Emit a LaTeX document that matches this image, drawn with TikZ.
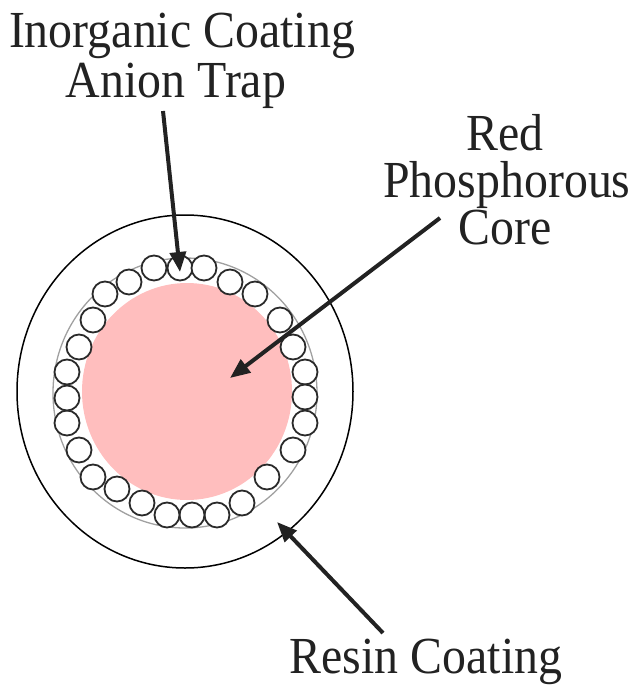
\documentclass[tikz,border=0pt]{standalone}
\usepackage{fontspec}
\setmainfont{Liberation Serif}[FakeStretch=0.92]
\usetikzlibrary{arrows.meta}
\definecolor{txt}{HTML}{222222}
\definecolor{beadc}{HTML}{2A2A2A}
\definecolor{ringc}{HTML}{A0A0A0}
\definecolor{corec}{HTML}{FFBEBE}
\begin{document}
\begin{tikzpicture}[x=1pt,y=-1pt,
  lbl/.style={font=\fontsize{52}{50}\selectfont, text=txt, anchor=base, inner sep=0pt},
  ptr/.style={draw=txt, line width=4pt, -{Triangle[length=20pt,width=16pt]}},
  bead/.style={draw=beadc, line width=1.8pt, fill=white},
]
\useasboundingbox (0,0) rectangle (635,686);
% resin coating
\draw[black, line width=1.5pt] (185,391.5) ellipse [x radius=168, y radius=176.5];
% inorganic layer boundary
\draw[ringc, line width=1.3pt] (185,393) ellipse [x radius=132, y radius=135];
% core
\fill[corec] (187,391.5) ellipse [x radius=105, y radius=108.5];
% beads
\foreach \p in {(154,268),(180,268),(204,268),
  (230,282),(255,294),(280,320),(293,347),(305,372),(305,397),
  (305,423),(293,450),(267,477),(242,503),(217,515),
  (192,515),(167,515),
  (142,503),(117,489),(93,477),(79,450),(67,423),(67,398),
  (67,372),(79,347),(93,320),(105,294),(129,282)}
  \draw[bead] \p circle [radius=12.5];
% labels
\node[lbl] (ic) at (182,47) {Inorganic Coating};
\node[lbl] (at) at (176,97) {Anion Trap};
\node[lbl] (rd) at (505,150) {Red};
\node[lbl] (ph) at (507,197) {Phosphorous};
\node[lbl] (co) at (505,244) {Core};
\node[lbl] (rc) at (426,673) {Resin Coating};
% arrow ends
\coordinate (a1s) at (163,111);
\coordinate (a1e) at (180,272);
\coordinate (a2s) at (440,218);
\coordinate (a2e) at (230,378);
\coordinate (a3s) at (383,633);
\coordinate (a3e) at (277,522);
\draw[ptr] (a1s) -- (a1e);
\draw[ptr] (a2s) -- (a2e);
\draw[ptr] (a3s) -- (a3e);
\end{tikzpicture}
\end{document}
